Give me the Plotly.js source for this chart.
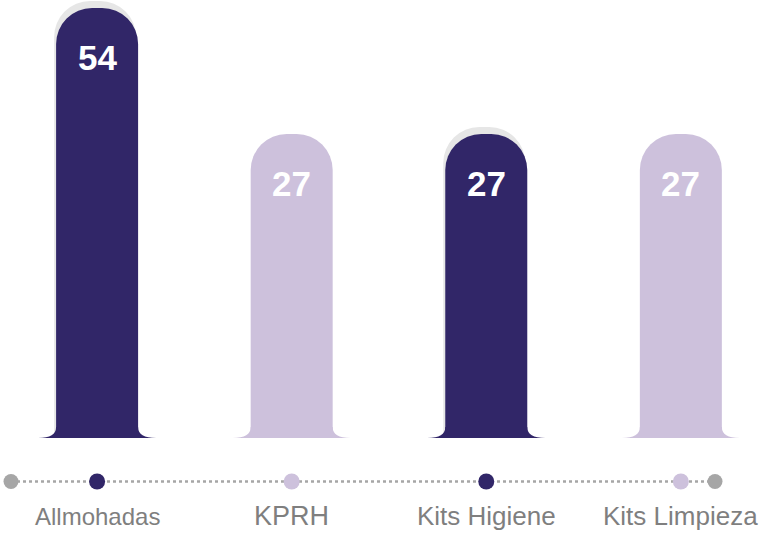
<!DOCTYPE html>
<html>
<head>
<meta charset="utf-8">
<script src="https://cdn.plot.ly/plotly-3.0.1.min.js"></script>
<style>html,body{margin:0;padding:0;background:#fff;}#chart{width:769px;height:541px;}</style>
</head>
<body>
<div id="chart"></div>
<script>
// ---- data ----
const categories = ["Allmohadas", "KPRH", "Kits Higiene", "Kits Limpieza"];
const values = [54, 27, 27, 27];
const valueLabels = ["54", "27", "27", "27"];

// ---- styles ----
const DARK = "#312668";
const LIGHT = "#cdc1dc";
const barColors = [DARK, LIGHT, DARK, LIGHT];
const labelSizes = [24, 27, 26, 26];
const FONT = "Liberation Sans, Arial, sans-serif";

const W = 769, H = 541;
const XR = [-0.499, 3.453];
const pxPerCat = W / (XR[1] - XR[0]);
const barWpx = 82;
const barW = barWpx / pxPerCat;
const plotBottomPx = 438;                // baseline of bars
const Y_HI = 1.7515, Y_LO = 0.7052;      // log10 range of bar axis
const pxPerDec = plotBottomPx / (Y_HI - Y_LO);
const shadowDy = 7 / pxPerDec;
const dotsY = 481.5, labelsY = 516;
const RADIUS = 36;

function catPx(i) { return (i - XR[0]) * pxPerCat; }

const shadowVals = values.map((v, i) => barColors[i] === DARK ? v : null);

const traces = [
  { // grey shadow behind dark domes
    type: "bar", x: categories, y: shadowVals, xaxis: "x", yaxis: "y",
    width: barW, offset: -barW / 2 - 2 / pxPerCat,
    marker: { color: "#e6e6e6", cornerradius: RADIUS, line: { width: 0 } },
    hoverinfo: "skip", showlegend: false
  },
  { // main bars
    type: "bar", x: categories, y: values, xaxis: "x", yaxis: "y3",
    width: barW,
    marker: { color: barColors, cornerradius: RADIUS, line: { width: 0 } },
    hoverinfo: "skip", showlegend: false
  },
  { // timeline dots
    type: "scatter", mode: "markers", x: categories, y: categories.map(() => dotsY),
    xaxis: "x", yaxis: "y2", cliponaxis: false,
    marker: { color: barColors, size: 16 },
    hoverinfo: "skip", showlegend: false
  }
];

const shapes = [];
// dotted timeline
shapes.push({ type: "line", xref: "paper", yref: "y2", x0: 11 / W, x1: 715 / W, y0: dotsY, y1: dotsY,
  line: { color: "#a6a6a6", width: 2.5, dash: "3px,3px" }, layer: "below" });
// grey end dots
[11, 715].forEach(px => {
  shapes.push({ type: "circle", xref: "paper", yref: "y2", x0: (px - 7.5) / W, x1: (px + 7.5) / W,
    y0: dotsY - 7.5, y1: dotsY + 7.5, fillcolor: "#a6a6a6", line: { width: 0 }, layer: "above" });
});
// flared bases
categories.forEach((c, i) => {
  const cx = catPx(i), hw = barWpx / 2, fw = 59, top = plotBottomPx - 11, b = plotBottomPx;
  const X = p => (p / W).toFixed(5);
  const path = `M ${X(cx - hw)},${top} Q ${X(cx - hw)},${b} ${X(cx - fw)},${b} L ${X(cx + fw)},${b} Q ${X(cx + hw)},${b} ${X(cx + hw)},${top} Z`;
  shapes.push({ type: "path", xref: "paper", yref: "y2", path: path, fillcolor: barColors[i], line: { width: 0 }, layer: "above" });
});

const annotations = [];
values.forEach((v, i) => {
  annotations.push({ xref: "x", yref: "y3", x: categories[i], y: Math.log10(v), yshift: -49,
    text: valueLabels[i], showarrow: false, yanchor: "middle",
    font: { family: FONT, size: 35, color: "#ffffff", weight: 700 } });
  annotations.push({ xref: "x", yref: "y2", x: categories[i], y: labelsY,
    text: categories[i], showarrow: false, yanchor: "middle",
    font: { family: FONT, size: labelSizes[i], color: "#7f7f7f" } });
});

const hidden = { showgrid: false, zeroline: false, showticklabels: false, showline: false, ticks: "", fixedrange: true };

const layout = {
  width: W, height: H,
  margin: { l: 0, r: 0, t: 0, b: 0, pad: 0 },
  paper_bgcolor: "#ffffff", plot_bgcolor: "rgba(0,0,0,0)",
  barmode: "overlay", showlegend: false,
  xaxis: Object.assign({ type: "category", range: XR }, hidden),
  yaxis: Object.assign({ type: "log", domain: [1 - plotBottomPx / H, 1], range: [Y_LO - shadowDy, Y_HI - shadowDy] }, hidden),
  yaxis3: Object.assign({ type: "log", overlaying: "y", range: [Y_LO, Y_HI] }, hidden),
  yaxis2: Object.assign({ domain: [0, 1], range: [H, 0], anchor: "x" }, hidden),
  shapes: shapes, annotations: annotations
};

Plotly.newPlot("chart", traces, layout, { staticPlot: true, displayModeBar: false });
</script>
</body>
</html>
